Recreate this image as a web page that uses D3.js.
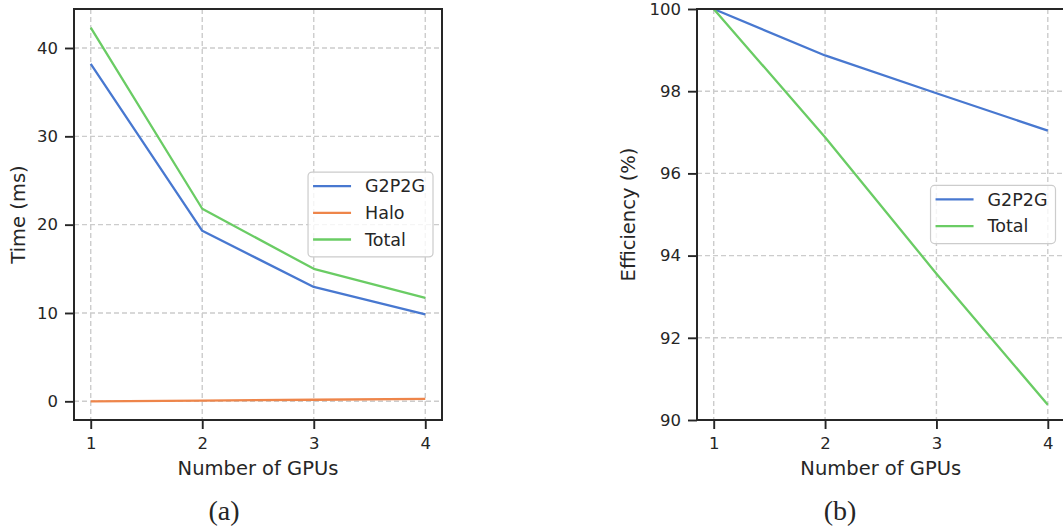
<!DOCTYPE html>
<html>
<head>
<meta charset="utf-8">
<script src="https://cdn.jsdelivr.net/npm/d3@7"></script>
<style>
  html, body { margin: 0; padding: 0; background: #fff; }
  svg { display: block; }
  text { font-family: "DejaVu Sans", sans-serif; fill: #262626; }
  .caption { font-family: "Liberation Serif", "DejaVu Serif", serif; }
</style>
</head>
<body>
<svg id="chart" width="1063" height="528"></svg>
<script>
// values
const gpus = [1, 2, 3, 4];
const timeG2P2G = [38.2, 19.3, 12.95, 9.85];
const timeHalo = [0.0, 0.08, 0.18, 0.27];
const timeTotal = [42.3, 21.8, 15.0, 11.7];
const effG2P2G = [100, 98.87, 97.95, 97.04];
const effTotal = [100, 96.88, 93.56, 90.37];

const xTicks = [1, 2, 3, 4];
const timeTicks = [0, 10, 20, 30, 40];
const effTicks = [90, 92, 94, 96, 98, 100];

const COLORS = { G2P2G: '#4878d0', Halo: '#ee854a', Total: '#6acc64' };
const INK = '#262626';

const svg = d3.select('#chart');

function drawPanel(opts) {
    const { left, right, top, bottom } = opts.box;
    const x = d3.scaleLinear().domain([0.85, 4.15]).range([left, right]);
    const y = d3.scaleLinear().domain(opts.yDomain).range([bottom, top]);
    const g = svg.append('g');

    // dashed grid
    const grid = g.append('g')
        .attr('stroke', '#cccccc')
        .attr('stroke-width', 1.4)
        .attr('stroke-dasharray', '5,3');
    grid.selectAll('.vx').data(xTicks).join('line')
        .attr('x1', (d) => x(d)).attr('x2', (d) => x(d))
        .attr('y1', top).attr('y2', bottom);
    grid.selectAll('.hy').data(opts.yTicks).join('line')
        .attr('x1', left).attr('x2', right)
        .attr('y1', (d) => y(d)).attr('y2', (d) => y(d));

    // series
    const line = d3.line().x((d, i) => x(gpus[i])).y((d) => y(d));
    opts.series.forEach((s) => {
        g.append('path')
            .attr('d', line(s.values))
            .attr('fill', 'none')
            .attr('stroke', COLORS[s.name])
            .attr('stroke-width', 2.3)
            .attr('stroke-linejoin', 'round');
    });

    // axes
    const xAxis = g.append('g')
        .attr('transform', `translate(0,${bottom})`)
        .call(d3.axisBottom(x).tickValues(xTicks).tickSize(9).tickPadding(8).tickFormat(d3.format('d')));
    const yAxis = g.append('g')
        .attr('transform', `translate(${left},0)`)
        .call(d3.axisLeft(y).tickValues(opts.yTicks).tickSize(9).tickPadding(7).tickFormat(d3.format('d')));
    [xAxis, yAxis].forEach((a) => {
        a.select('.domain').remove();
        a.selectAll('line').attr('stroke', INK).attr('stroke-width', 1.9);
        a.selectAll('text').attr('font-size', '16.5px').attr('fill', INK)
            .attr('font-family', '"DejaVu Sans", sans-serif');
    });

    // spines
    g.append('rect')
        .attr('x', left).attr('y', top)
        .attr('width', right - left).attr('height', bottom - top)
        .attr('fill', 'none').attr('stroke', INK).attr('stroke-width', 2);

    // labels
    g.append('text')
        .attr('x', (left + right) / 2).attr('y', 475)
        .attr('text-anchor', 'middle').attr('font-size', '19.5px')
        .text('Number of GPUs');
    g.append('text')
        .attr('transform', `translate(${opts.yLabelX},${(top + bottom) / 2}) rotate(-90)`)
        .attr('text-anchor', 'middle').attr('dy', '0.35em').attr('font-size', '19.5px')
        .text(opts.yLabel);

    // legend, anchored center-right
    const rowGap = 26.7;
    const lg = g.append('g');
    const box = lg.append('rect').attr('rx', 4)
        .attr('fill', '#fff').attr('fill-opacity', 0.8)
        .attr('stroke', '#cccccc').attr('stroke-width', 1.2);
    let maxW = 0;
    const rows = opts.series.map((s, i) => {
        const t = lg.append('text').attr('font-size', '17.5px').attr('dy', '0.36em').text(s.name);
        maxW = Math.max(maxW, t.node().getComputedTextLength());
        return { s, t, i };
    });
    const boxW = 5 + 38 + 14 + maxW + 8;
    const boxH = 31.4 + rowGap * (opts.series.length - 1);
    const bx = right - 9 - boxW;
    const by = (top + bottom) / 2 - boxH / 2;
    box.attr('x', bx).attr('y', by).attr('width', boxW).attr('height', boxH);
    rows.forEach(({ s, t, i }) => {
        const ry = by + 14 + i * rowGap;
        lg.append('line')
            .attr('x1', bx + 5).attr('x2', bx + 43)
            .attr('y1', ry).attr('y2', ry)
            .attr('stroke', COLORS[s.name]).attr('stroke-width', 2.3);
        t.attr('x', bx + 57).attr('y', ry);
    });

    svg.append('text').attr('class', 'caption')
        .attr('x', opts.captionX).attr('y', 520)
        .attr('text-anchor', 'middle').attr('font-size', '28px')
        .text(opts.caption);
}

drawPanel({
    box: { left: 74, right: 442, top: 9, bottom: 420 },
    yDomain: [-2.115, 44.415],
    yTicks: timeTicks,
    yLabel: 'Time (ms)',
    yLabelX: 18,
    caption: '(a)',
    captionX: 224,
    series: [
        { name: 'G2P2G', values: timeG2P2G },
        { name: 'Halo', values: timeHalo },
        { name: 'Total', values: timeTotal },
    ],
});

drawPanel({
    box: { left: 697, right: 1064.5, top: 9, bottom: 420 },
    yDomain: [90, 100],
    yTicks: effTicks,
    yLabel: 'Efficiency (%)',
    yLabelX: 628,
    caption: '(b)',
    captionX: 840,
    series: [
        { name: 'G2P2G', values: effG2P2G },
        { name: 'Total', values: effTotal },
    ],
});
</script>
</body>
</html>
